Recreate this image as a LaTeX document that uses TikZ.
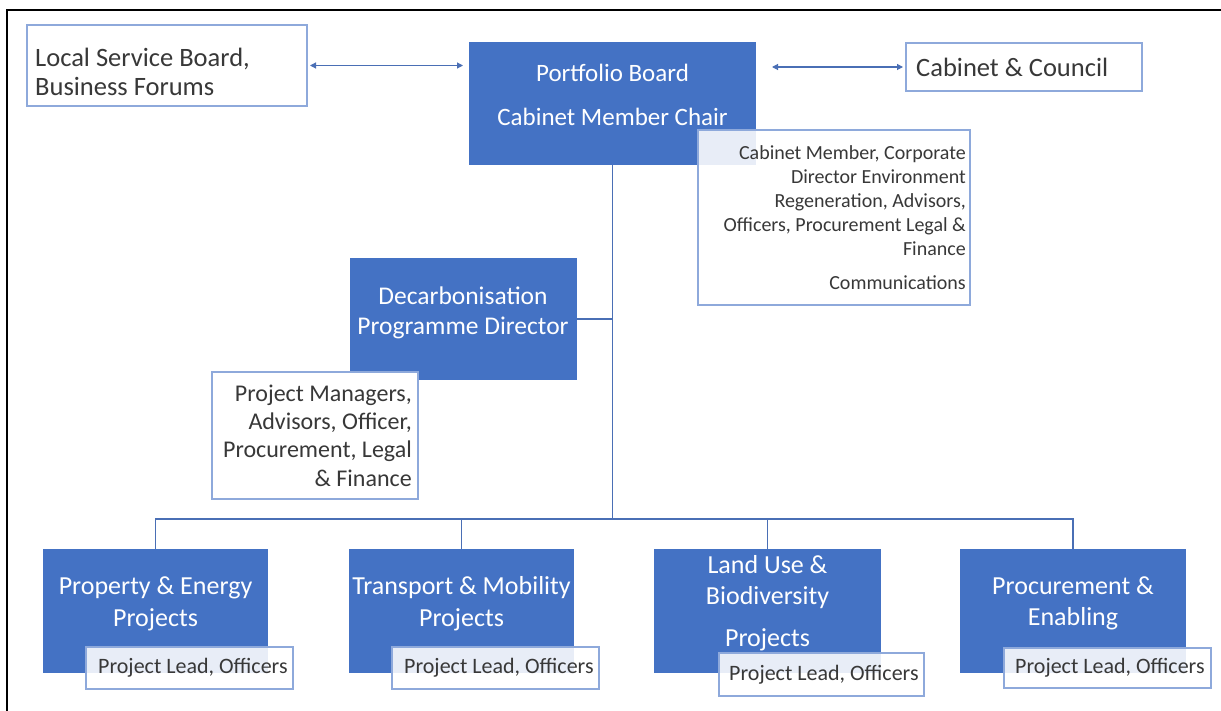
\documentclass[tikz,border=0pt]{standalone}
\usepackage{fontspec}
\setmainfont{Carlito}
\usetikzlibrary{arrows.meta}
\definecolor{myblue}{HTML}{4472C4}
\definecolor{linec}{HTML}{4A6FB5}
\definecolor{boxedge}{HTML}{8EA9DB}
\definecolor{txt}{HTML}{383838}
\begin{document}
\begin{tikzpicture}[x=1pt,y=-1pt,
  bluebox/.style={fill=myblue, draw=none, inner sep=0pt, outer sep=0pt, anchor=north west},
  whitebox/.style={fill=white, draw=boxedge, line width=1.4pt, inner sep=0pt, outer sep=0pt, anchor=north west},
  overbox/.style={whitebox, fill opacity=0.88},
  conn/.style={draw=linec, line width=1.8pt},
  arr/.style={{Triangle[length=6pt,width=6pt]}-{Triangle[length=6pt,width=6pt]}, draw=linec, line width=1.1pt},
  wt/.style={text=white, inner sep=0pt, align=center},
  dt/.style={text=txt, inner sep=0pt},
  frame/.style={draw=black, line width=2pt}
]
\useasboundingbox (0,0) rectangle (1221,711);
\fill[white] (0,0) rectangle (1221,711);
\draw[frame] (7,711) -- (7,10) -- (1221,10);

% coordinates
\coordinate (busy) at (0,519);

% boxes (shapes only)
\node[whitebox, minimum width=280pt, minimum height=81pt] (loc) at (27,25) {};
\node[bluebox, minimum width=287pt, minimum height=123pt] (pb) at (469,42) {};
\node[whitebox, minimum width=236pt, minimum height=48pt] (cc) at (906,43) {};
\node[bluebox, minimum width=227pt, minimum height=122pt] (dp) at (350,258) {};
\node[bluebox, minimum width=225pt, minimum height=124pt] (b1) at (43,549) {};
\node[bluebox, minimum width=225pt, minimum height=124pt] (b2) at (349,549) {};
\node[bluebox, minimum width=227pt, minimum height=124pt] (b3) at (654,549) {};
\node[bluebox, minimum width=226pt, minimum height=124pt] (b4) at (960,549) {};

% connectors
\draw[conn] (pb.south) -- (pb.south |- busy);
\draw[conn] (dp.east) -- (dp.east -| pb.south);
\draw[conn] (b1.north) -- (b1.north |- busy) -- (b4.north |- busy) -- (b4.north);
\draw[conn] (b2.north) -- (b2.north |- busy);
\draw[conn] (b3.north) -- (b3.north |- busy);
\draw[arr] ([xshift=3pt]loc.east) -- ([xshift=-6pt]loc.east -| pb.west);
\draw[arr] ([xshift=16pt]pb.east |- cc.west) -- ([xshift=-3pt]cc.west);

% overlapping white boxes
\node[overbox, minimum width=272pt, minimum height=175pt] (cm) at (698,130) {};
\node[whitebox, minimum width=206pt, minimum height=127pt] (pm) at (212,372) {};
\node[overbox, minimum width=207pt, minimum height=42pt] (s1) at (86,647) {};
\node[overbox, minimum width=207pt, minimum height=42pt] (s2) at (392,647) {};
\node[overbox, minimum width=205pt, minimum height=43pt] (s3) at (719,653) {};
\node[overbox, minimum width=207pt, minimum height=40pt] (s4) at (1004,648) {};

% texts
\node[dt, anchor=west, align=left, font={\fontsize{26.5}{29}\selectfont}] (tloc) at (35,71.5) {Local Service Board,\\Business Forums};
\node[wt, font={\fontsize{25}{30}\selectfont}] (tpb) at (612.5,95) {Portfolio Board\\[14pt]Cabinet Member Chair};
\node[dt, anchor=west, font={\fontsize{26.5}{30}\selectfont}] (tcc) at (916,67) {Cabinet \& Council};
\node[dt, anchor=east, align=right, font={\fontsize{20}{24}\selectfont}] (tcm) at (966,218) {Cabinet Member, Corporate\\Director Environment\\Regeneration, Advisors,\\Officers, Procurement Legal \&\\Finance\\[10pt]Communications};
\node[wt, font={\fontsize{25.5}{30}\selectfont}] (tdp) at (463,313) {Decarbonisation\\Programme Director};
\node[dt, anchor=east, align=right, font={\fontsize{24}{28.3}\selectfont}] (tpm) at (412,435.5) {Project Managers,\\Advisors, Officer,\\Procurement, Legal\\\& Finance};
\node[wt, font={\fontsize{26}{32}\selectfont}] (tb1) at (155.5,604) {Property \& Energy\\Projects};
\node[wt, font={\fontsize{26}{32}\selectfont}] (tb2) at (461.5,604) {Transport \& Mobility\\Projects};
\node[wt, font={\fontsize{26}{31}\selectfont}] (tb3) at (767.5,603.5) {Land Use \&\\Biodiversity\\[11pt]Projects};
\node[wt, font={\fontsize{26}{31}\selectfont}] (tb4) at (1073,603.5) {Procurement \&\\Enabling};
\node[dt, anchor=west, font={\fontsize{22}{26}\selectfont}] (ts1) at (98,668) {Project Lead, Officers};
\node[dt, anchor=west, font={\fontsize{22}{26}\selectfont}] (ts2) at (404,668) {Project Lead, Officers};
\node[dt, anchor=west, font={\fontsize{22}{26}\selectfont}] (ts3) at (729,675) {Project Lead, Officers};
\node[dt, anchor=west, font={\fontsize{22}{26}\selectfont}] (ts4) at (1015,668) {Project Lead, Officers};
\end{tikzpicture}
\end{document}
